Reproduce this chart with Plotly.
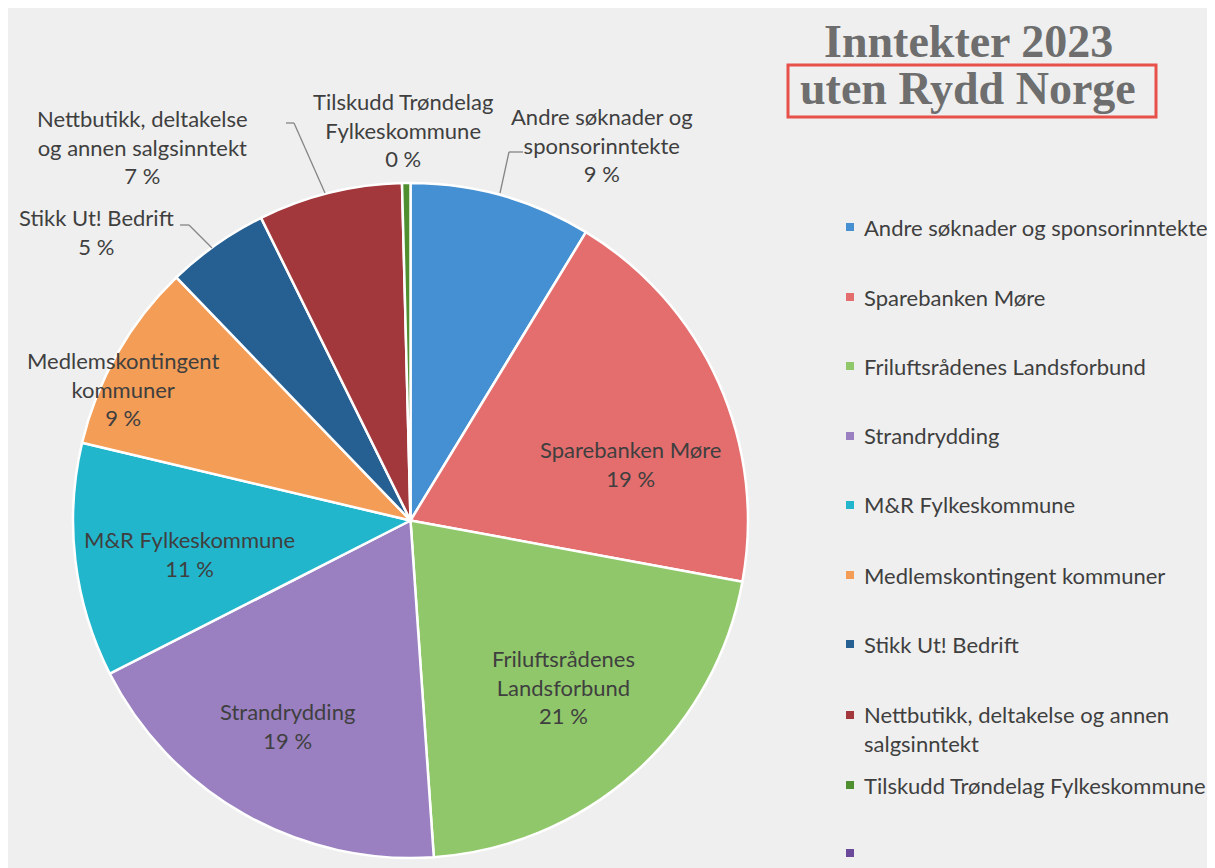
import plotly.graph_objects as go

# ---------------- data ----------------
categories = [
    "Andre søknader og sponsorinntekte",
    "Sparebanken Møre",
    "Friluftsrådenes Landsforbund",
    "Strandrydding",
    "M&R Fylkeskommune",
    "Medlemskontingent kommuner",
    "Stikk Ut! Bedrift",
    "Nettbutikk, deltakelse og annen salgsinntekt",
    "Tilskudd Trøndelag Fylkeskommune",
    "",
]
values = [8.7, 19.2, 21.0, 18.6, 11.2, 9.1, 4.9, 6.9, 0.4, 0.0]  # percent
slice_labels = [
    "Andre søknader og<br>sponsorinntekte",
    "Sparebanken Møre",
    "Friluftsrådenes<br>Landsforbund",
    "Strandrydding",
    "M&R Fylkeskommune",
    "Medlemskontingent<br>kommuner",
    "Stikk Ut! Bedrift",
    "Nettbutikk, deltakelse<br>og annen salgsinntekt",
    "Tilskudd Trøndelag<br>Fylkeskommune",
    "",
]
legend_labels = [
    "Andre søknader og sponsorinntekte",
    "Sparebanken Møre",
    "Friluftsrådenes Landsforbund",
    "Strandrydding",
    "M&R Fylkeskommune",
    "Medlemskontingent kommuner",
    "Stikk Ut! Bedrift",
    "Nettbutikk, deltakelse og annen<br>salgsinntekt",
    "Tilskudd Trøndelag Fylkeskommune",
    "",
]
title_lines = ["Inntekter 2023", "uten Rydd Norge"]

# ---------------- styles ----------------
colors = ["#4590d2", "#e46e6e", "#90c76a", "#9a80c0", "#22b6cd",
          "#f39d57", "#265f92", "#a2373c", "#4f8f30", "#6b4a9b"]
OFF = 8                      # page body margin
W, H = 1215 - OFF, 868 - OFF
FONT = "Lato"
TXT = "#3f3f3f"


def px(x, y):
    """screen pixel -> paper coordinate"""
    return (x - OFF) / W, 1 - (y - OFF) / H


cx, cy, R = 410.5, 520.5, 337.5
x0, y0 = px(cx - R, cy + R)
x1, y1 = px(cx + R, cy - R)

pie_idx = [i for i, v in enumerate(values) if v > 0]

fig = go.Figure()
fig.add_trace(go.Pie(
    labels=[categories[i] for i in pie_idx],
    values=[values[i] for i in pie_idx],
    marker=dict(colors=[colors[i] for i in pie_idx],
                line=dict(color="white", width=2.5)),
    sort=False, direction="clockwise", rotation=0,
    textinfo="none", showlegend=False,
    domain=dict(x=[x0, x1], y=[y0, y1]),
))

# slice label positions (pixel centres) – layout only
label_pos = [(602, 145), (630, 464), (563, 687), (287, 726), (189, 554),
             (123, 389), (96, 232), (142, 147), (403, 130), None]

annotations = []
for i, pos in enumerate(label_pos):
    if pos is None:
        continue
    ax, ay = px(*pos)
    annotations.append(dict(
        x=ax, y=ay, xref="paper", yref="paper",
        text=f"{slice_labels[i]}<br>{values[i]:.0f} %",
        showarrow=False, xanchor="center", yanchor="middle", align="center",
        font=dict(family=FONT, size=22, color=TXT),
    ))

# legend (custom, to match spacing)
leg_y = [227, 297, 366, 436, 505, 575, 644, 729, 785, 853]
shapes = []
for i, lab in enumerate(legend_labels):
    yy = leg_y[i]
    sy = yy if i != 7 else 715
    a0 = px(846, sy + 4)
    a1 = px(854, sy - 4)
    shapes.append(dict(type="rect", xref="paper", yref="paper",
                       x0=a0[0], y0=a0[1], x1=a1[0], y1=a1[1],
                       fillcolor=colors[i], line=dict(width=0)))
    if lab:
        lx, ly = px(862, yy)
        annotations.append(dict(
            x=lx, y=ly, xref="paper", yref="paper", text=lab,
            showarrow=False, xanchor="left", yanchor="middle", align="left",
            font=dict(family=FONT, size=22, color=TXT),
        ))

# leader lines
leaders = [
    [(523, 152), (509, 152), (500, 193)],
    [(286, 123), (294, 123), (325, 193)],
    [(180, 225), (189, 225), (212, 248)],
]
for pts in leaders:
    for (ax_, ay_), (bx_, by_) in zip(pts[:-1], pts[1:]):
        p0 = px(ax_, ay_)
        p1 = px(bx_, by_)
        shapes.append(dict(type="line", xref="paper", yref="paper",
                           x0=p0[0], y0=p0[1], x1=p1[0], y1=p1[1],
                           line=dict(color="#858585", width=1.3)))

# title
for line, yy in zip(title_lines, [41, 89]):
    tx, ty = px(968, yy)
    annotations.append(dict(
        x=tx, y=ty, xref="paper", yref="paper", text=f"<b>{line}</b>",
        showarrow=False, xanchor="center", yanchor="middle",
        font=dict(family="Liberation Serif", size=46, color="#6e6e6e"),
    ))
r0 = px(788, 117)
r1 = px(1156, 65)
shapes.append(dict(type="rect", xref="paper", yref="paper",
                   x0=r0[0], y0=r0[1], x1=r1[0], y1=r1[1],
                   line=dict(color="#e8504a", width=3), fillcolor="rgba(0,0,0,0)"))

fig.update_layout(
    width=W, height=H,
    margin=dict(l=0, r=0, t=0, b=0),
    paper_bgcolor="#efefef", plot_bgcolor="#efefef",
    annotations=annotations, shapes=shapes,
    showlegend=False,
)

fig.write_html("out.html")
